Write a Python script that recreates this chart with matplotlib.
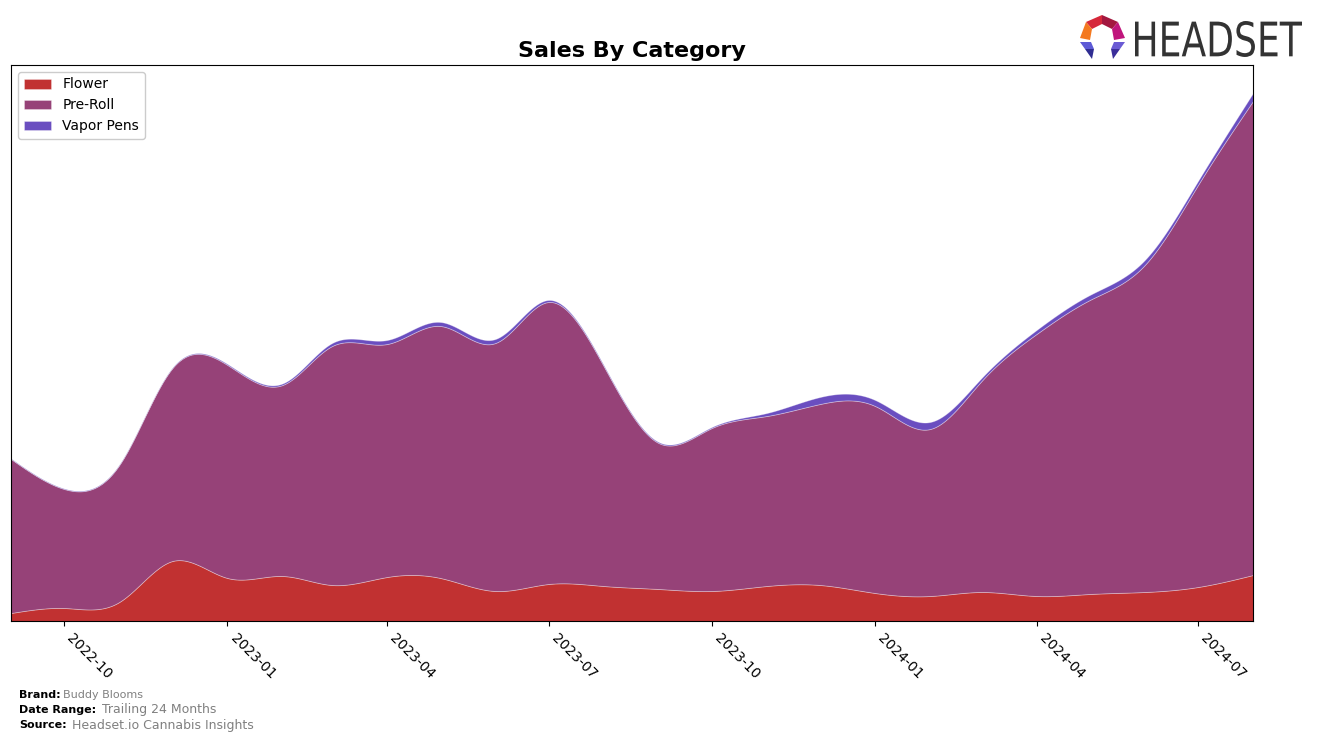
import numpy as np
import pandas as pd
import matplotlib
matplotlib.use("Agg")
import matplotlib.pyplot as plt
import matplotlib.dates as mdates
from matplotlib.patches import Polygon, PathPatch
from matplotlib.textpath import TextPath
from matplotlib.font_manager import FontProperties
from matplotlib.transforms import Affine2D

# monthly sales by category (relative units)
MONTHS = pd.date_range("2022-09-01", "2024-08-01", freq="MS")
FLOWER = [8, 13, 19, 60, 43, 45, 36, 44, 43, 30, 37, 35,
          32, 30, 35, 36, 28, 25, 29, 25, 27, 29, 34, 46]
PRE_ROLL = [154, 119, 137, 193, 213, 191, 239, 233, 252, 248, 282, 220,
            146, 163, 170, 181, 187, 167, 211, 262, 294, 327, 402, 474]
VAPOR_PENS = [0.5, 0.5, 0.5, 0.5, 1, 1.5, 3, 4, 4, 4, 2, 1,
              1, 1, 3, 7, 6, 7, 3, 4, 5, 5, 4, 8]
CATEGORIES = ["Flower", "Pre-Roll", "Vapor Pens"]
COLOURS = ["#c13131", "#964278", "#6a4ec0"]

FIG_W, FIG_H, DPI = 13.17, 7.41, 100
W_PX, H_PX = 1317, 741


def natural_spline(x, y, xs):
    """Natural cubic spline through (x, y), evaluated at xs (drawing only)."""
    x = np.asarray(x, float)
    y = np.asarray(y, float)
    n = len(x)
    h = np.diff(x)
    a = np.zeros((n, n))
    r = np.zeros(n)
    a[0, 0] = a[-1, -1] = 1
    for i in range(1, n - 1):
        a[i, i - 1] = h[i - 1]
        a[i, i] = 2 * (h[i - 1] + h[i])
        a[i, i + 1] = h[i]
        r[i] = 3 * ((y[i + 1] - y[i]) / h[i] - (y[i] - y[i - 1]) / h[i - 1])
    c = np.linalg.solve(a, r)
    b = (y[1:] - y[:-1]) / h - h * (2 * c[:-1] + c[1:]) / 3
    d = (c[1:] - c[:-1]) / (3 * h)
    idx = np.clip(np.searchsorted(x, xs) - 1, 0, n - 2)
    dx = xs - x[idx]
    return y[idx] + b[idx] * dx + c[idx] * dx ** 2 + d[idx] * dx ** 3


x = mdates.date2num(MONTHS.to_pydatetime())
xs = np.linspace(x[0], x[-1], 1200)
layers = [np.clip(natural_spline(x, s, xs), 0, None)
          for s in (FLOWER, PRE_ROLL, VAPOR_PENS)]

fig = plt.figure(figsize=(FIG_W, FIG_H), dpi=DPI)
ax = fig.add_axes([11 / W_PX, 1 - 621 / H_PX, 1242 / W_PX, 556 / H_PX])
ax.stackplot(xs, *layers, labels=CATEGORIES, colors=COLOURS,
             edgecolor=(1, 1, 1, 0.35), linewidth=0.6)
ax.set_xlim(x[0], x[-1])
ax.set_ylim(0, max(np.sum(layers, axis=0)) * 1.053)
ax.set_yticks([])
ax.xaxis.set_major_locator(mdates.MonthLocator(bymonth=[1, 4, 7, 10]))
ax.xaxis.set_major_formatter(mdates.DateFormatter("%Y-%m"))
for lab in ax.get_xticklabels():
    lab.set_rotation(-45)
    lab.set_ha("left")
    lab.set_fontsize(10)
ax.set_title("Sales By Category", fontsize=16, fontweight="bold", pad=6)
ax.legend(loc="upper left", fontsize=10, framealpha=1)

# footer
fig.text(19 / W_PX, 1 - 695 / H_PX, "Brand:", fontsize=8, fontweight="bold",
         va="center")
fig.text(63 / W_PX, 1 - 695 / H_PX, "Buddy Blooms", fontsize=8,
         color="#808080", va="center")
fig.text(19 / W_PX, 1 - 710 / H_PX, "Date Range:", fontsize=8,
         fontweight="bold", va="center")
fig.text(102 / W_PX, 1 - 710 / H_PX, "Trailing 24 Months", fontsize=9,
         color="#808080", va="center")
fig.text(19 / W_PX, 1 - 725 / H_PX, "Source:", fontsize=8, fontweight="bold",
         va="center")
fig.text(72 / W_PX, 1 - 725 / H_PX, "Headset.io Cannabis Insights",
         fontsize=9, color="#808080", va="center")

# logo, drawn in an overlay axes whose data units are image pixels
lax = fig.add_axes([0, 0, 1, 1], zorder=5)
lax.set_xlim(0, W_PX)
lax.set_ylim(H_PX, 0)
lax.axis("off")

word = TextPath((0, 0), "HEADSET", size=1,
                prop=FontProperties(family="DejaVu Sans"))
ext = word.get_extents()
sx = 167 / ext.width
sy = 36 / ext.height
word_tf = (Affine2D().translate(-ext.x0, -ext.y0).scale(sx, -sy)
           .translate(1135, 57))
lax.add_patch(PathPatch(word_tf.transform_path(word), color="#333333",
                        lw=0))

shapes = [
    ([(1086, 22), (1102, 15), (1102, 24), (1092, 29)], "#d6283a"),
    ([(1102, 15), (1118, 22), (1112, 29), (1102, 24)], "#a3183f"),
    ([(1118, 22), (1125, 38), (1114, 40), (1112, 29)], "#c0157c"),
    ([(1086, 22), (1092, 29), (1090, 40), (1080, 38)], "#f47920"),
    ([(1080, 42), (1091, 42), (1094, 49), (1085, 49)], "#5d5ad6"),
    ([(1085, 49), (1094, 49), (1092, 59)], "#2f2d92"),
    ([(1125, 42), (1114, 42), (1111, 49), (1120, 49)], "#6a5bd4"),
    ([(1120, 49), (1111, 49), (1113, 59)], "#3b2e9a"),
]
for pts, col in shapes:
    lax.add_patch(Polygon(pts, closed=True, color=col, lw=0))

fig.savefig("out.png", dpi=DPI)
